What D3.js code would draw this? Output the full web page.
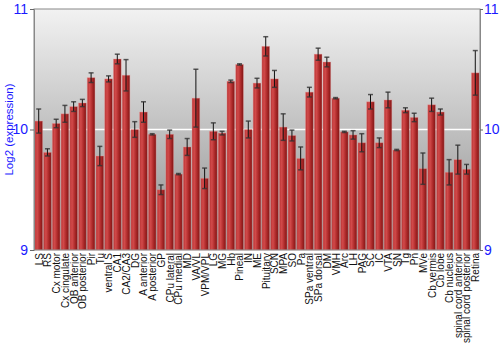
<!doctype html>
<html lang="en">
<head>
    <meta charset="UTF-8">
    <title>Log2 expression</title>
    <script src="https://cdn.jsdelivr.net/npm/d3@7"></script>
    <style>
        body { margin: 0; background: #fff; }
        text { font-family: "Liberation Sans", Arial, sans-serif; }
    </style>
</head>
<body>
    <svg width="500" height="350"></svg>
    <script>
        // regions
        const categories = ["LS", "RS", "Cx motor", "Cx cingulate", "OB anterior", "OB posterior", "Pir", "Tu",
            "ventral S", "CA1", "CA2/CA3", "DG", "A anterior", "A posterior", "GP", "CPu lateral", "CPu medial",
            "MD", "VA/VL", "VPM/VPL", "LG", "MG", "Hb", "Pineal", "IN", "ME", "Pituitary", "SCN", "MPA", "SO",
            "Pa", "SPa ventral", "SPa dorsal", "DM", "VMH", "Arc", "LH", "PAG", "SC", "IC", "VTA", "SN", "Tg",
            "Pn", "MVe", "Cb vermis", "Cb lobe", "Cb nucleus", "spinal cord anterior", "spinal cord posterior",
            "Retina"];

        // mean log2 expression
        const values = [10.07, 9.81, 10.05, 10.13, 10.19, 10.22, 10.43, 9.78,
            10.42, 10.585, 10.45, 10.0, 10.145, 9.96, 9.50, 9.96, 9.63,
            9.855, 10.26, 9.595, 9.985, 9.97, 10.40, 10.54, 10.0, 10.385, 10.69, 10.42, 10.02, 9.95,
            9.76, 10.31, 10.625, 10.56, 10.26, 9.98, 9.955, 9.89, 10.23, 9.89, 10.245, 9.83, 10.16,
            10.10, 9.675, 10.205, 10.145, 9.645, 9.75, 9.67,
            10.47];

        // standard error
        const errors = [0.10, 0.03, 0.035, 0.07, 0.04, 0.03, 0.04, 0.08,
            0.025, 0.04, 0.13, 0.065, 0.085, 0.005, 0.04, 0.035, 0.005,
            0.07, 0.24, 0.085, 0.07, 0.015, 0.01, 0.005, 0.07, 0.04, 0.08, 0.07, 0.11, 0.045,
            0.095, 0.04, 0.05, 0.04, 0.005, 0.005, 0.035, 0.075, 0.06, 0.04, 0.065, 0.005, 0.02,
            0.035, 0.13, 0.055, 0.025, 0.105, 0.12, 0.04,
            0.185];

        const yTicks = [9, 10, 11];

        var svg = d3.select("svg"),
            margin = { top: 9, right: 20, bottom: 100, left: 34 },
            width = 500 - margin.left - margin.right,
            height = 350 - margin.top - margin.bottom;

        var defs = svg.append("defs");
        var bg = defs.append("linearGradient").attr("id", "bg")
            .attr("x1", 0).attr("y1", 0).attr("x2", 0).attr("y2", 1);
        bg.append("stop").attr("offset", "0%").attr("stop-color", "#f2f2f2");
        bg.append("stop").attr("offset", "100%").attr("stop-color", "#8e8e8e");

        var barGrad = defs.append("linearGradient").attr("id", "bar")
            .attr("x1", 0).attr("y1", 0).attr("x2", 1).attr("y2", 0);
        barGrad.append("stop").attr("offset", "0%").attr("stop-color", "#b83434");
        barGrad.append("stop").attr("offset", "30%").attr("stop-color", "#d24a4a");
        barGrad.append("stop").attr("offset", "70%").attr("stop-color", "#a82626");
        barGrad.append("stop").attr("offset", "100%").attr("stop-color", "#7e1616");

        var g = svg.append("g")
            .attr("transform", "translate(" + margin.left + "," + margin.top + ")");

        var x = d3.scaleBand()
            .domain(categories)
            .range([0, width])
            .paddingInner(0.12)
            .paddingOuter(0.1);

        var y = d3.scaleLinear()
            .domain([9, 11])
            .range([height, 0]);

        // background
        g.append("rect")
            .attr("width", width)
            .attr("height", height)
            .attr("fill", "url(#bg)");

        // gridline at 10
        g.append("line")
            .attr("x1", 0).attr("x2", width)
            .attr("y1", y(10)).attr("y2", y(10))
            .attr("stroke", "#fff")
            .attr("stroke-width", 1.5);

        var data = categories.map((c, i) => ({ name: c, value: values[i], err: errors[i] }));

        // bars
        g.selectAll(".bar")
            .data(data)
            .enter().append("rect")
            .attr("class", "bar")
            .attr("x", d => x(d.name))
            .attr("y", d => y(d.value))
            .attr("width", x.bandwidth())
            .attr("height", d => height - y(d.value))
            .attr("fill", "url(#bar)")
            .attr("stroke", "rgba(240,150,150,0.45)")
            .attr("stroke-width", 0.8);

        // error bars
        var eb = g.selectAll(".err")
            .data(data)
            .enter().append("g")
            .attr("class", "err")
            .attr("transform", d => "translate(" + (x(d.name) + x.bandwidth() / 2) + ",0)");

        eb.append("line")
            .attr("y1", d => y(d.value + d.err))
            .attr("y2", d => y(d.value - d.err))
            .attr("stroke", "#111")
            .attr("stroke-width", 1);

        eb.selectAll(".cap")
            .data(d => [d.value + d.err, d.value - d.err])
            .enter().append("line")
            .attr("x1", -2.5).attr("x2", 2.5)
            .attr("y1", v => y(v)).attr("y2", v => y(v))
            .attr("stroke", "#333")
            .attr("stroke-opacity", 0.8)
            .attr("stroke-width", 1.5);

        // frame
        g.append("rect")
            .attr("width", width)
            .attr("height", height)
            .attr("fill", "none")
            .attr("stroke", "#888")
            .attr("stroke-width", 1);

        // y axes
        var left = g.append("g").call(d3.axisLeft(y).tickValues(yTicks).tickSize(4).tickPadding(2).tickFormat(d3.format("d")));
        var right = g.append("g").attr("transform", "translate(" + width + ",0)")
            .call(d3.axisRight(y).tickValues(yTicks).tickSize(3).tickPadding(1).tickFormat(d3.format("d")));
        [left, right].forEach(a => {
            a.select(".domain").attr("stroke", "#888");
            a.selectAll(".tick line").attr("stroke", "#666");
            a.selectAll(".tick text")
                .attr("fill", "#1a1aff")
                .style("font-size", "14px")
                .style("font-family", "'Liberation Sans', Arial, sans-serif");
        });

        // x labels
        var xa = g.append("g").attr("transform", "translate(0," + height + ")")
            .call(d3.axisBottom(x).tickSize(0));
        xa.select(".domain").remove();
        xa.selectAll(".tick text")
            .attr("transform", "rotate(-90) scale(1,1.12)")
            .attr("x", -3)
            .attr("y", 0)
            .attr("dy", "0.35em")
            .style("text-anchor", "end")
            .style("font-size", "10px")
            .style("font-family", "'Liberation Sans', Arial, sans-serif")
            .attr("fill", "#111");

        // y title
        svg.append("text")
            .attr("transform", "translate(9," + (margin.top + height / 2) + ") rotate(-90)")
            .attr("text-anchor", "middle")
            .attr("dy", "0.35em")
            .attr("fill", "#1a1aff")
            .style("font-size", "11.5px")
            .text("Log2 (expression)");
    </script>
</body>
</html>
